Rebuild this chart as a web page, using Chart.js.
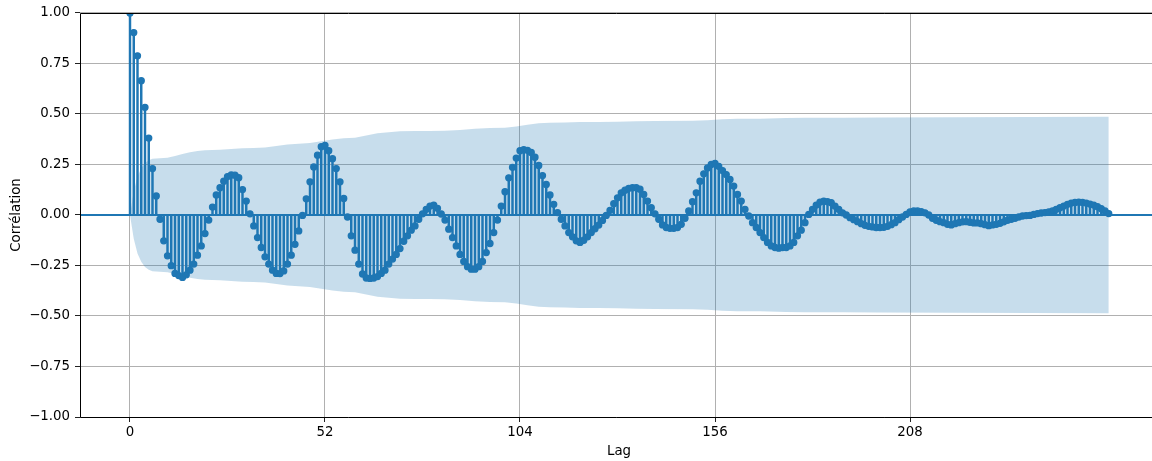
<!DOCTYPE html>
<html>
<head>
<meta charset="utf-8">
<title>ACF</title>
<script src="https://cdn.jsdelivr.net/npm/chart.js@4/dist/chart.umd.min.js"></script>
<style>
  html, body { margin: 0; padding: 0; overflow: hidden; background: #fff; }
  canvas { display: block; }
</style>
</head>
<body>
<canvas id="acf" width="1152" height="461"></canvas>
<script>
// Autocorrelation by lag (lag 0 .. 261)
const ACF = [
  1.000, 0.903, 0.788, 0.665, 0.533, 0.381, 0.230, 0.094, -0.021, -0.128,
  -0.202, -0.251, -0.289, -0.300, -0.309, -0.296, -0.273, -0.243, -0.199, -0.153,
  -0.092, -0.025, 0.039, 0.099, 0.135, 0.167, 0.190, 0.198, 0.197, 0.185,
  0.126, 0.069, 0.006, -0.054, -0.112, -0.161, -0.207, -0.243, -0.273, -0.289,
  -0.290, -0.277, -0.243, -0.199, -0.145, -0.079, -0.002, 0.080, 0.164, 0.238,
  0.296, 0.338, 0.345, 0.318, 0.279, 0.230, 0.164, 0.082, -0.010, -0.103,
  -0.174, -0.243, -0.292, -0.312, -0.314, -0.312, -0.305, -0.289, -0.273, -0.243,
  -0.218, -0.195, -0.166, -0.130, -0.103, -0.075, -0.054, -0.021, 0.006, 0.028,
  0.044, 0.049, 0.033, 0.005, -0.025, -0.070, -0.112, -0.153, -0.195, -0.230,
  -0.256, -0.268, -0.268, -0.256, -0.230, -0.186, -0.141, -0.087, -0.025, 0.044,
  0.115, 0.184, 0.236, 0.282, 0.318, 0.323, 0.320, 0.310, 0.286, 0.245,
  0.195, 0.151, 0.099, 0.053, 0.012, -0.021, -0.054, -0.087, -0.108, -0.128,
  -0.136, -0.125, -0.108, -0.087, -0.068, -0.050, -0.027, -0.002, 0.023, 0.056,
  0.085, 0.110, 0.123, 0.132, 0.135, 0.135, 0.128, 0.102, 0.069, 0.036,
  0.006, -0.021, -0.049, -0.062, -0.066, -0.066, -0.062, -0.046, -0.016, 0.020,
  0.066, 0.110, 0.167, 0.204, 0.233, 0.250, 0.255, 0.241, 0.220, 0.200,
  0.176, 0.143, 0.102, 0.069, 0.028, -0.005, -0.038, -0.062, -0.087, -0.112,
  -0.136, -0.153, -0.161, -0.164, -0.161, -0.161, -0.153, -0.136, -0.103, -0.075,
  -0.038, 0.003, 0.028, 0.049, 0.064, 0.069, 0.066, 0.061, 0.044, 0.028,
  0.011, 0.000, -0.013, -0.023, -0.033, -0.043, -0.051, -0.056, -0.059, -0.062,
  -0.062, -0.061, -0.056, -0.048, -0.038, -0.023, -0.010, 0.003, 0.015, 0.020,
  0.020, 0.016, 0.011, 0.000, -0.016, -0.026, -0.033, -0.038, -0.046, -0.049,
  -0.043, -0.038, -0.034, -0.033, -0.036, -0.039, -0.039, -0.043, -0.048, -0.053,
  -0.049, -0.046, -0.041, -0.034, -0.026, -0.021, -0.016, -0.010, -0.005, -0.003,
  -0.002, 0.003, 0.007, 0.010, 0.012, 0.015, 0.020, 0.028, 0.036, 0.044,
  0.053, 0.059, 0.062, 0.064, 0.062, 0.059, 0.054, 0.049, 0.041, 0.031,
  0.020, 0.007
];

// Confidence band half-width (symmetric around zero) at selected lags
const CONF_LAGS = [0, 1, 2, 3, 4, 5, 6, 7, 8, 10, 12, 14, 16, 18, 20, 22, 24,
  27, 30, 33, 36, 39, 42, 45, 48, 51, 54, 57, 60, 63, 66, 69, 72,
  76, 80, 84, 88, 92, 96, 100, 103, 106, 109, 112, 116, 120,
  125, 130, 135, 140, 150, 154, 158, 162, 168, 175, 180, 190, 200, 220, 240, 261];
const CONF_HALF = [0, 0.118, 0.190, 0.232, 0.257, 0.271, 0.278, 0.280, 0.281, 0.284, 0.292, 0.302, 0.311, 0.317, 0.321, 0.322, 0.323,
  0.327, 0.331, 0.332, 0.334, 0.341, 0.349, 0.353, 0.356, 0.365, 0.374, 0.380, 0.383, 0.394, 0.405, 0.410, 0.414,
  0.416, 0.416, 0.417, 0.421, 0.427, 0.431, 0.432, 0.438, 0.447, 0.454, 0.457, 0.458, 0.460,
  0.461, 0.462, 0.464, 0.465, 0.466, 0.469, 0.474, 0.476, 0.477, 0.480, 0.481, 0.482, 0.483, 0.484, 0.485, 0.486];

const X_TICKS = [0, 52, 104, 156, 208];
const Y_TICKS = [-1, -0.75, -0.5, -0.25, 0, 0.25, 0.5, 0.75, 1];
const X_LABEL = 'Lag';
const Y_LABEL = 'Corrélation';

// axis limits: the axes box reaches lag 274.1 on the right, the canvas shows up to 272.5
const X_MIN = -13.333, X_MAX = 272.533, X_BOX_MAX = 274.133;
const Y_MIN = -1, Y_MAX = 1;

const BLUE = '#1f77b4';
const BAND = 'rgba(31,119,180,0.25)';
const FONT = { family: 'DejaVu Sans', size: 13.33 };

const acfPoints = ACF.map((v, i) => ({ x: i, y: v }));
const upper = CONF_LAGS.map((l, i) => ({ x: l, y: CONF_HALF[i] }));
const lower = CONF_LAGS.map((l, i) => ({ x: l, y: -CONF_HALF[i] }));

// axes frame (left, top, bottom spines) and the x-axis title centred on the full box
const frame = {
  id: 'frame',
  afterDraw(chart) {
    const { ctx, chartArea: a, scales: { x } } = chart;
    ctx.save();
    ctx.strokeStyle = '#000';
    ctx.lineWidth = 1;
    ctx.beginPath();
    ctx.moveTo(Math.round(a.left) + 0.5, Math.round(a.bottom) + 0.5);
    ctx.lineTo(Math.round(a.left) + 0.5, Math.round(a.top) + 0.5);
    ctx.lineTo(a.right + 2, Math.round(a.top) + 0.5);
    ctx.moveTo(Math.round(a.left) + 0.5, Math.round(a.bottom) + 0.5);
    ctx.lineTo(a.right + 2, Math.round(a.bottom) + 0.5);
    ctx.stroke();

    const cx = (a.left + x.getPixelForValue(X_BOX_MAX)) / 2;
    ctx.fillStyle = '#000';
    ctx.font = FONT.size + 'px "' + FONT.family + '"';
    ctx.textAlign = 'center';
    ctx.textBaseline = 'middle';
    ctx.fillText(X_LABEL, cx, chart.height - 9);
    ctx.restore();
  }
};

Chart.defaults.font.family = FONT.family;
Chart.defaults.font.size = FONT.size;
Chart.defaults.color = '#000';

new Chart(document.getElementById('acf'), {
  data: {
    datasets: [
      { type: 'line', data: upper, fill: '+1', backgroundColor: BAND, borderWidth: 0,
        pointRadius: 0, tension: 0, order: 10 },
      { type: 'line', data: lower, fill: false, backgroundColor: BAND, borderWidth: 0,
        pointRadius: 0, tension: 0, order: 10 },
      { type: 'bar', data: acfPoints, backgroundColor: BLUE, borderWidth: 0,
        barThickness: 1.8, order: 5, clip: 0 },
      { type: 'line', data: [{ x: X_MIN, y: 0 }, { x: X_MAX, y: 0 }], borderColor: BLUE,
        borderWidth: 2, pointRadius: 0, fill: false, order: 3 },
      { type: 'scatter', data: acfPoints, backgroundColor: BLUE, borderColor: BLUE,
        pointRadius: 3, borderWidth: 1.3, showLine: false, order: 1, clip: 0 }
    ]
  },
  options: {
    responsive: false,
    animation: false,
    devicePixelRatio: 1,
    layout: { autoPadding: false, padding: { top: 11, left: 0, right: 0, bottom: 0 } },
    plugins: { legend: { display: false }, tooltip: { enabled: false } },
    scales: {
      x: {
        type: 'linear', min: X_MIN, max: X_MAX, offset: false,
        grid: { color: '#b0b0b0', lineWidth: 1, tickColor: '#222', tickLength: 5,
          drawTicks: true, offset: false },
        border: { display: false },
        afterBuildTicks: s => { s.ticks = X_TICKS.map(v => ({ value: v })); },
        afterFit: s => { s.height = 44; },
        ticks: { autoSkip: false, maxRotation: 0, padding: 3, callback: v => String(v) },
        title: { display: false }
      },
      y: {
        type: 'linear', min: Y_MIN, max: Y_MAX,
        grid: { color: '#b0b0b0', lineWidth: 1, tickColor: '#222', tickLength: 5, drawTicks: true },
        border: { display: false },
        afterBuildTicks: s => { s.ticks = Y_TICKS.map(v => ({ value: v })); },
        afterFit: s => { s.width = 80; },
        ticks: { autoSkip: false, padding: 5,
          callback: v => v.toFixed(2).replace('-', '\u2212') },
        title: { display: true, text: Y_LABEL, padding: { top: 9, bottom: 0 } }
      }
    }
  },
  plugins: [frame]
});
</script>
</body>
</html>
